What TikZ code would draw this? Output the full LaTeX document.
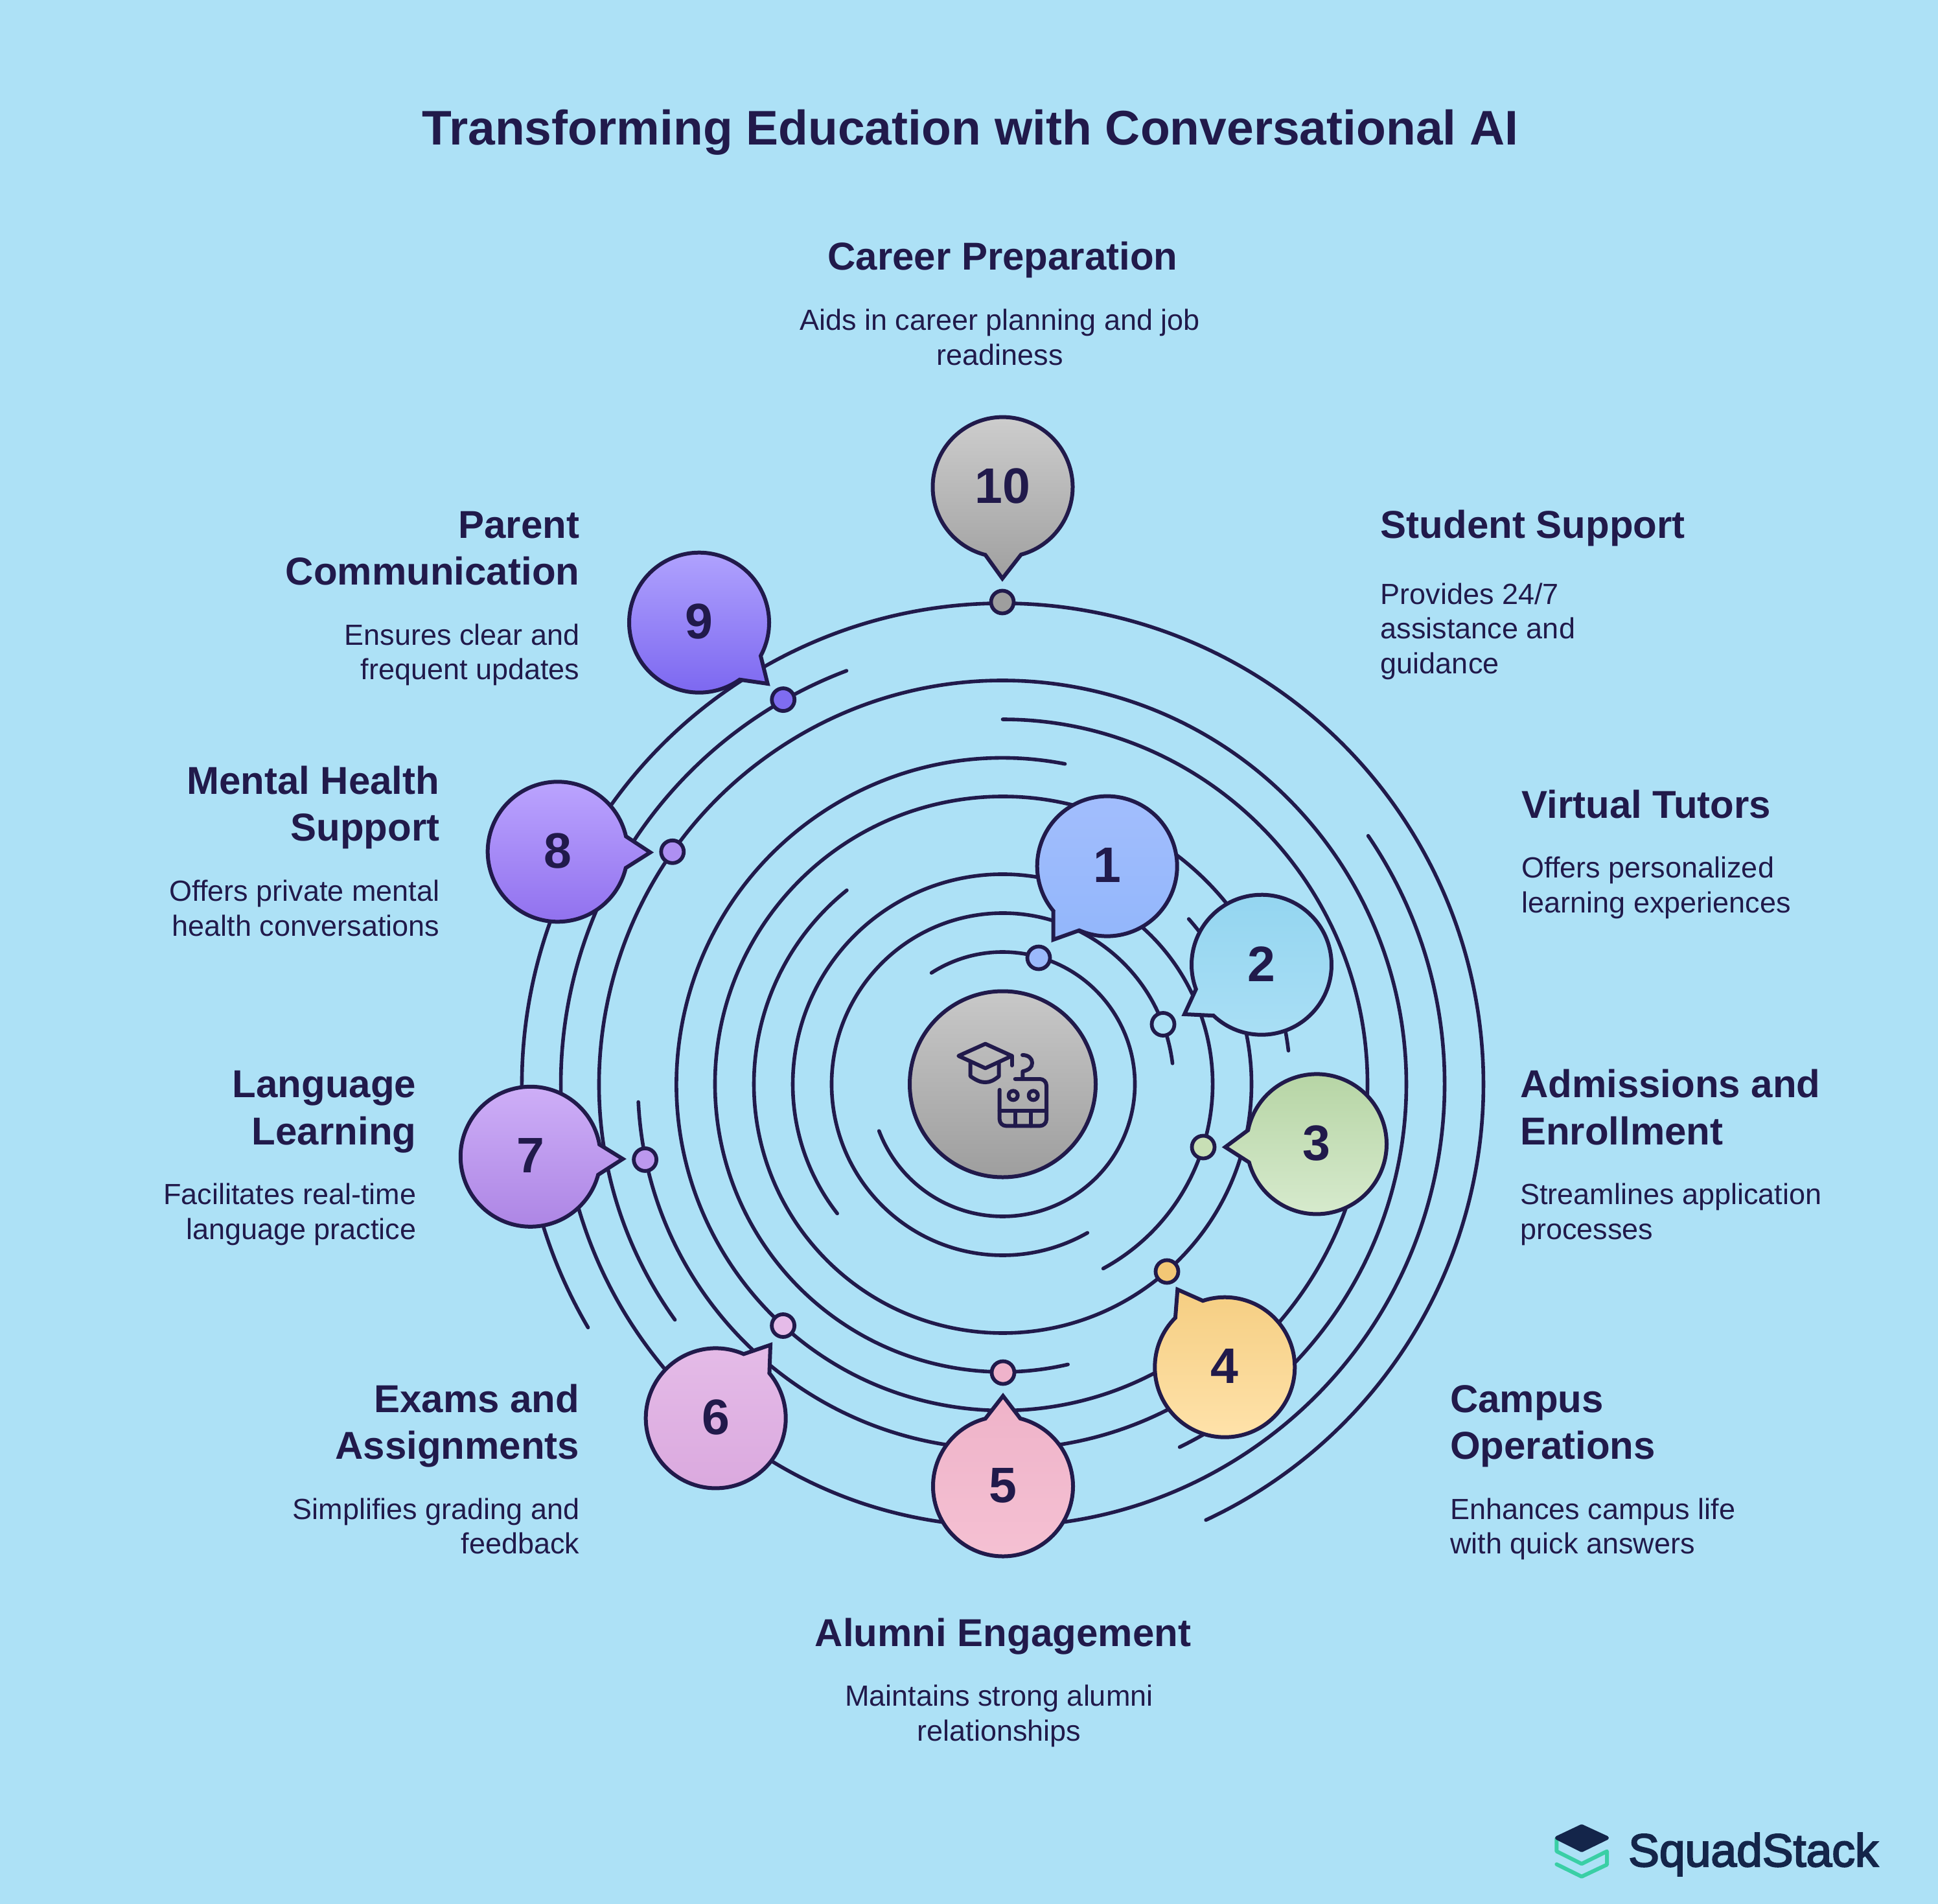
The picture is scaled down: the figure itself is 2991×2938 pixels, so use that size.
\documentclass[tikz,border=0pt]{standalone}
\usepackage{fontspec}
\setmainfont{Liberation Sans}
\newfontfamily\logofont[FakeBold=3]{Liberation Sans}
\usetikzlibrary{calc}
\definecolor{bgc}{HTML}{ADE1F6}
\definecolor{ink}{HTML}{211A4B}
\definecolor{logoink}{HTML}{14254A}
\definecolor{logogreen}{HTML}{3ACFA5}
\definecolor{a1}{HTML}{A3BEFD}\definecolor{z1}{HTML}{92B6FB}
\definecolor{a2}{HTML}{93D5F0}\definecolor{z2}{HTML}{AADFF5}
\definecolor{a3}{HTML}{B5D4A3}\definecolor{z3}{HTML}{D8EBCF}
\definecolor{a4}{HTML}{F5CE82}\definecolor{z4}{HTML}{FFE3AC}
\definecolor{a5}{HTML}{EFB3C9}\definecolor{z5}{HTML}{F5C1D3}
\definecolor{a6}{HTML}{E5BCE8}\definecolor{z6}{HTML}{DAA8DE}
\definecolor{a7}{HTML}{CFB0F8}\definecolor{z7}{HTML}{AC84E4}
\definecolor{a8}{HTML}{BDA6FF}\definecolor{z8}{HTML}{8F6FEE}
\definecolor{a9}{HTML}{B3A6FF}\definecolor{z9}{HTML}{7B66F0}
\definecolor{a10}{HTML}{CFCFCF}\definecolor{z10}{HTML}{A0A0A0}
\definecolor{hubtop}{HTML}{C8C8C8}\definecolor{hubbot}{HTML}{9E9E9E}
\definecolor{p1}{HTML}{9BB9FB}\definecolor{p2}{HTML}{ADE1F6}
\definecolor{p3}{HTML}{C8DFB5}\definecolor{p4}{HTML}{F3C775}
\definecolor{p5}{HTML}{EFB3CB}\definecolor{p6}{HTML}{E5BBE8}
\definecolor{p7}{HTML}{BC98EE}\definecolor{p8}{HTML}{AE8FF2}
\definecolor{p9}{HTML}{7F6CF0}\definecolor{p10}{HTML}{9E9E9E}
\newcommand{\titlefont}{\fontsize{75}{90}\bfseries\selectfont}
\newcommand{\hdfont}{\fontsize{60}{72.5}\bfseries\selectfont}
\newcommand{\dsfont}{\fontsize{45}{53.7}\selectfont}
\tikzset{
  ring/.style={draw=ink,line width=5.6pt,line cap=round},
  bubble/.style={draw=ink,line width=6pt,line join=miter,miter limit=10},
  dotmark/.style={circle,draw=ink,line width=5.8pt,minimum size=35pt,inner sep=0pt},
  numlabel/.style={text=ink,font=\fontsize{77}{77}\bfseries\selectfont,inner sep=0pt},
  hd/.style={text=ink,font=\hdfont,inner sep=0pt},
  ds/.style={text=ink,font=\dsfont,inner sep=0pt},
  iconline/.style={draw=ink,line width=6pt,line cap=round,line join=round}
}
% ring: radius, start angle, end angle
\newcommand{\ringarc}[3]{\draw[ring] ($(cen)+(#2:#1pt)$) arc[start angle=#2,end angle=#3,radius=#1pt];}
% bubble: number, centre, angle a, angle b, tip
\newcommand{\bub}[5]{%
  \draw[bubble,top color=a#1,bottom color=z#1] (#5) -- ($(#2)+(#3:108pt)$) arc[start angle=#3,end angle=#4,radius=108pt] -- cycle;
  \node[numlabel,yshift=1.5pt] (b#1) at (#2) {#1};}
\newcommand{\dotm}[2]{\node[dotmark,fill=p#1] (d#1) at (#2) {};}
\newcommand{\hr}{\rule{0pt}{50pt}}
\newcommand{\dr}{\rule{0pt}{37pt}}
\begin{document}
\begin{tikzpicture}[x=1pt,y=-1pt]
\useasboundingbox (0,0) rectangle (2991,2938);
\fill[bgc] (0,0) rectangle (2991,2938);
\coordinate (cen) at (1547.5,1673);
% rings
\ringarc{204}{122.6}{-159.3}
\ringarc{264}{7}{299.7}
\ringarc{324}{-61.4}{218}
\ringarc{384}{41.6}{-231.2}
\ringarc{444}{6.7}{283.1}
\ringarc{503.5}{79}{305}
\ringarc{563}{90}{-177.2}
\ringarc{623}{215.7}{-64}
\ringarc{682}{34.2}{-249.3}
\ringarc{742}{210.4}{-65}
% dots
\dotm{1}{1603,1478}
\dotm{2}{1795,1580.5}
\dotm{3}{1857,1770}
\dotm{4}{1801,1962}
\dotm{5}{1548,2118}
\dotm{6}{1208.6,2045.5}
\dotm{7}{995.6,1789.4}
\dotm{8}{1037.8,1314.3}
\dotm{9}{1208.7,1079.6}
\dotm{10}{1547,929}
% bubbles
\bub{1}{1708.7,1336.6}{246.5}{579.8}{1625.5,1450}
\bub{2}{1947,1488.7}{226.6}{560.4}{1828,1565}
\bub{3}{2032,1765.4}{195.1}{528.5}{1891,1770}
\bub{4}{1890.3,2109.7}{135}{468.3}{1817.3,1989.8}
\bub{5}{1548,2293.5}{104.6}{435.7}{1548,2154}
\bub{6}{1104.7,2188.4}{66.5}{400}{1189,2075.3}
\bub{7}{818.8,1784.8}{10}{345}{961.2,1788.3}
\bub{8}{860.7,1314.3}{12.7}{346.6}{1003.6,1315.3}
\bub{9}{1079,960.7}{-28.4}{305.4}{1184.7,1055}
\bub{10}{1547.5,751.6}{285.2}{615.6}{1547,892.7}
% centre
\node[circle,draw=ink,line width=6pt,minimum size=287pt,inner sep=0pt,top color=hubtop,bottom color=hubbot] (hub) at (cen) {};
% icon
\draw[iconline] (1520.7,1610.7) -- (1561.7,1629.3) -- (1520.7,1648.3) -- (1479.3,1629.3) -- cycle;
\draw[iconline] (1561.7,1629.3) -- (1561.7,1644);
\draw[iconline] (1497.7,1640) -- (1497.7,1660.7) .. controls (1508,1668) and (1514,1670) .. (1520.7,1670) .. controls (1528,1670) and (1534,1667) .. (1541.7,1660.7) -- (1541.7,1640);
\draw[iconline,rounded corners=10pt] (1542.7,1681.7) -- (1542.7,1737.3) -- (1615,1737.3) -- (1615,1665) -- (1566.7,1665);
\draw[iconline] (1542.7,1714) -- (1615,1714);
\draw[iconline] (1567.3,1714) -- (1567.3,1737.3);
\draw[iconline] (1591,1714) -- (1591,1737.3);
\draw[iconline] (1563.7,1690.3) circle[radius=7pt];
\draw[iconline] (1594.7,1690.3) circle[radius=7pt];
\draw[iconline] (1578.3,1665) -- (1578.3,1653.3) .. controls (1588,1651) and (1593,1647) .. (1593,1640) .. controls (1593,1633) and (1587,1628) .. (1578,1628);
% title
\node[text=ink,font=\titlefont,inner sep=0pt,anchor=base] (title) at (1497.5,224) {Transforming Education with Conversational AI};
% labels: anchors are placed at top of first line
\node[hd,align=center,anchor=north] (h10) at (1547.5,366) {\hr Career Preparation};
\node[ds,align=center,anchor=north] (t10) at (1543,472.5) {\dr Aids in career planning and job\\readiness};
\node[hd,align=left,anchor=north west] (h1) at (2130.7,780) {\hr Student Support};
\node[ds,align=left,anchor=north west] (t1) at (2130.7,895) {\dr Provides 24/7\\assistance and\\guidance};
\node[hd,align=left,anchor=north west] (h2) at (2348.5,1212) {\hr Virtual Tutors};
\node[ds,align=left,anchor=north west] (t2) at (2348.5,1317.5) {\dr Offers personalized\\learning experiences};
\node[hd,align=left,anchor=north west] (h3) at (2346,1643.5) {\hr Admissions and\\Enrollment};
\node[ds,align=left,anchor=north west] (t3) at (2346,1821.5) {\dr Streamlines application\\processes};
\node[hd,align=left,anchor=north west] (h4) at (2238,2129) {\hr Campus\\Operations};
\node[ds,align=left,anchor=north west] (t4) at (2238,2307) {\dr Enhances campus life\\with quick answers};
\node[hd,align=center,anchor=north] (h5) at (1548,2490) {\hr Alumni Engagement};
\node[ds,align=center,anchor=north] (t5) at (1542,2595.5) {\dr Maintains strong alumni\\relationships};
\node[hd,align=right,anchor=north east] (h6) at (894.5,2129) {\hr Exams and\\Assignments};
\node[ds,align=right,anchor=north east] (t6) at (894.5,2307) {\dr Simplifies grading and\\feedback};
\node[hd,align=right,anchor=north east] (h7) at (642.5,1643.5) {\hr Language\\Learning};
\node[ds,align=right,anchor=north east] (t7) at (642.5,1821.5) {\dr Facilitates real-time\\language practice};
\node[hd,align=right,anchor=north east] (h8) at (678.5,1175) {\hr Mental Health\\Support};
\node[ds,align=right,anchor=north east] (t8) at (678.5,1353.5) {\dr Offers private mental\\health conversations};
\node[hd,align=right,anchor=north east] (h9) at (894.5,780) {\hr Parent\\Communication};
\node[ds,align=right,anchor=north east] (t9) at (894.5,958) {\dr Ensures clear and\\frequent updates};
% logo
\draw[logogreen,line width=6pt,line join=round,line cap=round] (2402.4,2837) -- (2402.4,2856.7) -- (2441,2876) -- (2480,2856.7) -- (2480,2877.3) -- (2441,2895.7) -- (2402.4,2876.7);
\fill[logoink,draw=logoink,line width=6pt,line join=round] (2441,2818) -- (2480,2836) -- (2441,2855) -- (2403,2836) -- cycle;
\node[text=logoink,font=\logofont\fontsize{71.5}{71.5}\selectfont,inner sep=0pt,anchor=base west] (logo) at (2513,2880) {SquadStack};
\end{tikzpicture}
\end{document}
